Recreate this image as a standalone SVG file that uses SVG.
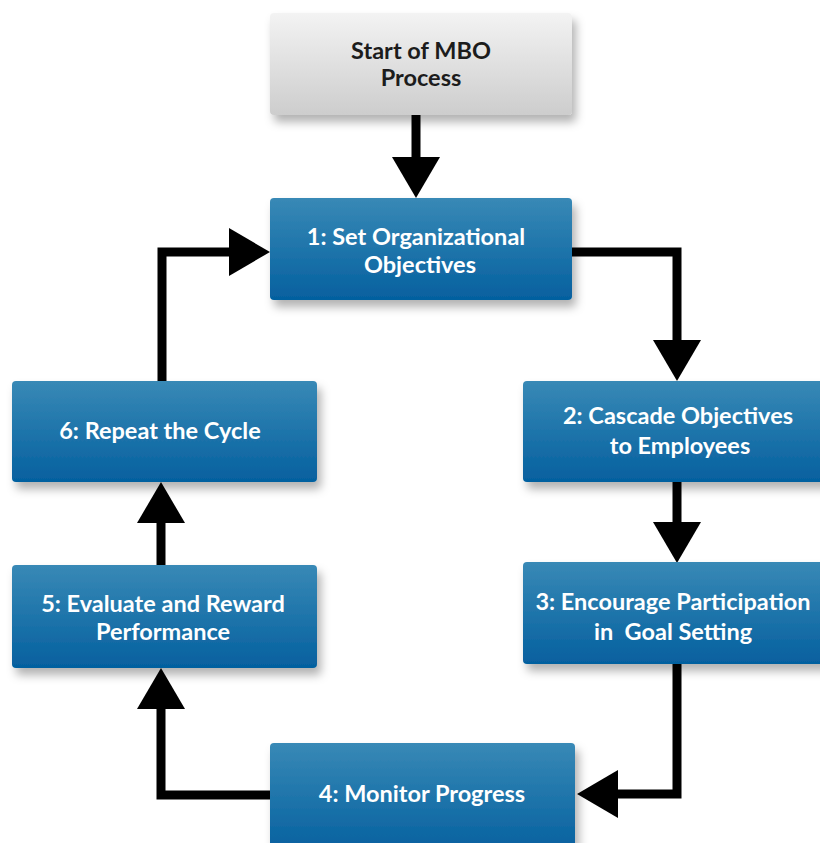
<svg xmlns="http://www.w3.org/2000/svg" width="820" height="843" viewBox="0 0 820 843">
  <defs>
    <linearGradient id="blue" x1="0" y1="0" x2="0" y2="1">
      <stop offset="0" stop-color="#3889b6"/>
      <stop offset="1" stop-color="#05609f"/>
    </linearGradient>
    <linearGradient id="gray" x1="0" y1="0" x2="0" y2="1">
      <stop offset="0" stop-color="#f3f3f3"/>
      <stop offset="1" stop-color="#cdcdcd"/>
    </linearGradient>
    <filter id="shadow" x="-10%" y="-20%" width="130%" height="150%">
      <feDropShadow dx="4" dy="7" stdDeviation="5" flood-color="#000" flood-opacity="0.3"/>
    </filter>
    <marker id="head" markerUnits="userSpaceOnUse" markerWidth="42" markerHeight="50" refX="0" refY="25" orient="auto" viewBox="0 0 42 50">
      <path d="M0,1 L41,25 L0,49 Z" fill="#000"/>
    </marker>
  </defs>
  <style>
    .box { fill: url(#blue); filter: url(#shadow); }
    .start { fill: url(#gray); filter: url(#shadow); }
    .lbl { font-family: Lato, "Open Sans", "Liberation Sans", sans-serif; font-weight: bold; font-size: 23.5px; fill: #ffffff; text-anchor: middle; white-space: pre; }
    .dark { fill: #1c1c1c; }
    .conn { fill: none; stroke: #000; stroke-width: 9; stroke-linejoin: miter; marker-end: url(#head); }
  </style>

  <g id="connectors">
    <path class="conn" d="M416,115 L416,157"/>
    <path class="conn" d="M572,252 L677,252 L677,340"/>
    <path class="conn" d="M677,482 L677,522"/>
    <path class="conn" d="M677,664 L677,794 L618,794"/>
    <path class="conn" d="M270,795 L161,795 L161,709"/>
    <path class="conn" d="M161,565 L161,523"/>
    <path class="conn" d="M162,381 L162,252 L229,252"/>
  </g>

  <g id="node-start">
    <rect class="start" x="270" y="13" width="302" height="102" rx="4"/>
    <text class="lbl dark" x="421" y="59">Start of MBO</text>
    <text class="lbl dark" x="421" y="86">Process</text>
  </g>
  <g id="node-1">
    <rect class="box" x="270" y="198" width="302" height="102" rx="4"/>
    <text class="lbl" x="416" y="245">1: Set Organizational</text>
    <text class="lbl" x="420" y="273">Objectives</text>
  </g>
  <g id="node-2">
    <rect class="box" x="523" y="381" width="307" height="101" rx="4"/>
    <text class="lbl" x="678" y="424">2: Cascade Objectives</text>
    <text class="lbl" x="680" y="454">to Employees</text>
  </g>
  <g id="node-3">
    <rect class="box" x="523" y="562" width="307" height="102" rx="4"/>
    <text class="lbl" x="673" y="610">3: Encourage Participation</text>
    <text class="lbl" x="673" y="640" xml:space="preserve">in  Goal Setting</text>
  </g>
  <g id="node-4">
    <rect class="box" x="270" y="743" width="305" height="110" rx="4"/>
    <text class="lbl" x="422" y="802">4: Monitor Progress</text>
  </g>
  <g id="node-5">
    <rect class="box" x="12" y="565" width="305" height="103" rx="4"/>
    <text class="lbl" x="163" y="612">5: Evaluate and Reward</text>
    <text class="lbl" x="163" y="640">Performance</text>
  </g>
  <g id="node-6">
    <rect class="box" x="12" y="381" width="305" height="101" rx="4"/>
    <text class="lbl" x="160" y="439">6: Repeat the Cycle</text>
  </g>
</svg>
